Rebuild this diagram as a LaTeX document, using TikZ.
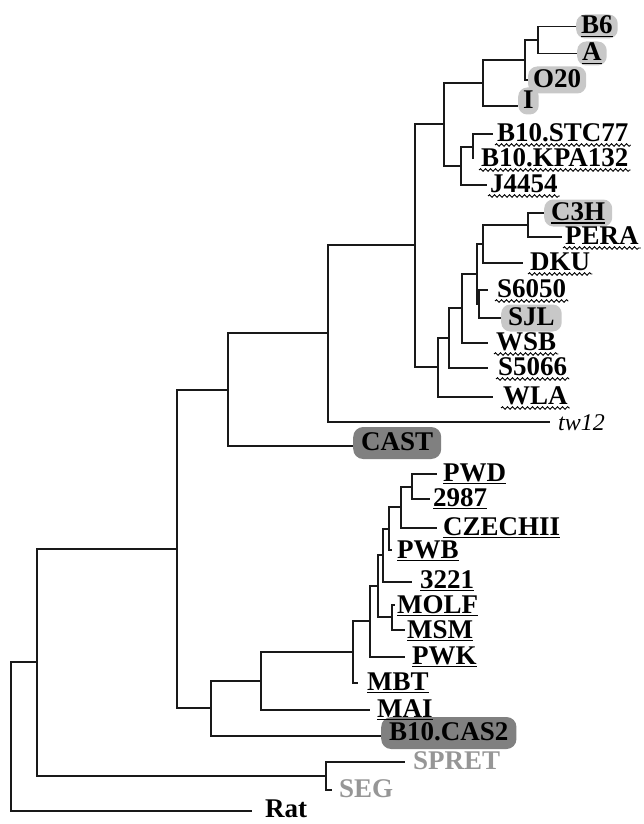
\documentclass[tikz,border=0pt]{standalone}
\usepackage{fontspec}
\setmainfont{Liberation Serif}
\usetikzlibrary{decorations.pathmorphing}
\definecolor{boxlight}{RGB}{200,200,200}
\definecolor{boxdark}{RGB}{128,128,128}
\definecolor{spretgray}{RGB}{150,150,150}
\definecolor{treeline}{RGB}{25,25,25}
\tikzset{
  br/.style={line width=1.8pt, draw=treeline},
  lab/.style={font=\bfseries\fontsize{27}{29}\selectfont, anchor=west, inner sep=0pt, text height=18pt, text depth=0pt},
  lbox/.style={lab, fill=boxlight, rounded corners=9pt, inner xsep=5pt, inner ysep=3pt, text depth=3pt},
  dbox/.style={lab, fill=boxdark, rounded corners=10pt, inner xsep=8pt, inner ysep=5.5pt, text depth=3pt},
  ital/.style={lab, font=\itshape\fontsize{24}{26}\selectfont},
  uline/.style={line width=1.6pt, draw=black},
  wavy/.style={line width=0.9pt, draw=black, decorate, decoration={snake, amplitude=1.3pt, segment length=5pt}},
}
\newcommand\myul[2][0pt]{\draw[uline,shorten <=#1,shorten >=#1] ([yshift=-2.5pt]#2.base west) -- ([yshift=-2.5pt]#2.base east);}
\newcommand\mywl[1]{\draw[wavy] ([yshift=-4pt,xshift=-2pt]#1.base west) -- ([yshift=-4pt,xshift=2pt]#1.base east);}
\begin{document}
\begin{tikzpicture}[x=1pt,y=-1pt]
\useasboundingbox (0,0) rectangle (643,824);
% internal nodes
\coordinate (n538) at (538,40);
\coordinate (n525) at (525,60);
\coordinate (n483a) at (483,83);
\coordinate (n473) at (473,147);
\coordinate (n461) at (461,166);
\coordinate (n444) at (444,124);
\coordinate (n528) at (528,225);
\coordinate (n483b) at (483,244);
\coordinate (n479) at (479,304);
\coordinate (n477) at (477,274);
\coordinate (n462) at (462,308);
\coordinate (n449) at (449,338);
\coordinate (n438) at (438,367);
\coordinate (n415) at (415,245);
\coordinate (n328) at (328,333);
\coordinate (n228) at (228,390);
\coordinate (n412) at (412,487);
\coordinate (n401) at (401,507);
\coordinate (n389) at (389,529);
\coordinate (n383) at (383,555);
\coordinate (n392) at (392,617);
\coordinate (n378) at (378,586);
\coordinate (n370) at (370,621);
\coordinate (n353) at (353,652);
\coordinate (n261) at (261,681);
\coordinate (n211) at (211,708);
\coordinate (n177) at (177,549);
\coordinate (n326) at (326,776);
\coordinate (n37) at (37,662);
\coordinate (n11) at (11,737);
% leaf ends
\coordinate (b6e) at (576,26.5);
\coordinate (ae) at (577,53.5);
\coordinate (o20e) at (528,80);
\coordinate (ie) at (518,106);
\coordinate (stce) at (493,134);
\coordinate (kpae) at (473,159);
\coordinate (je) at (487,185);
\coordinate (c3he) at (544,213);
\coordinate (perae) at (562,237);
\coordinate (dkue) at (523,263);
\coordinate (s6e) at (488,290);
\coordinate (sjle) at (501,318);
\coordinate (wsbe) at (488,343);
\coordinate (s5e) at (488,368);
\coordinate (wlae) at (493,397);
\coordinate (twe) at (550,422);
\coordinate (caste) at (353,446);
\coordinate (pwde) at (437,474);
\coordinate (n2987e) at (430,499);
\coordinate (cze) at (437,528);
\coordinate (pwbe) at (392,550);
\coordinate (n3221e) at (412,582);
\coordinate (molfe) at (395,605);
\coordinate (msme) at (405,630);
\coordinate (pwke) at (405,657);
\coordinate (mbte) at (358,683);
\coordinate (maie) at (370,710);
\coordinate (cas2e) at (381,736);
\coordinate (sprete) at (405,762);
\coordinate (sege) at (332,790);
\coordinate (rate) at (252,811);
% branches
\foreach \p/\c in {n538/b6e, n538/ae, n525/n538, n525/o20e, n483a/n525, n483a/ie,
  n444/n483a, n444/n461, n461/n473, n461/je, n473/stce, n473/kpae,
  n415/n444, n415/n438, n438/n449, n438/wlae, n449/n462, n449/s5e,
  n462/n477, n462/wsbe, n477/n483b, n477/n479, n483b/n528, n483b/dkue,
  n528/c3he, n528/perae, n479/s6e, n479/sjle,
  n328/n415, n328/twe, n228/n328, n228/caste, n177/n228, n177/n211,
  n211/n261, n211/cas2e, n261/n353, n261/maie, n353/n370, n353/mbte,
  n370/n378, n370/pwke, n378/n383, n378/n392, n383/n389, n383/n3221e,
  n389/n401, n389/pwbe, n401/n412, n401/cze, n412/pwde, n412/n2987e,
  n392/molfe, n392/msme, n37/n177, n37/n326, n326/sprete, n326/sege,
  n11/n37, n11/rate}
  \draw[br] (\p) |- (\c);
% labels
\node[lbox, inner ysep=1.5pt] (b6) at (b6e) {B6};
\node[lbox, inner ysep=1.5pt] (a) at (ae) {A};
\node[lbox] (o20) at (o20e) {O20};
\node[lbox] (i) at (518,101) {I};
\node[lab] (stc) at (497,132) {B10.STC77};
\node[lab] (kpa) at (481,157) {B10.KPA132};
\node[lab] (j) at (490,183) {J4454};
\node[lbox, inner xsep=7pt] (c3h) at (c3he) {C3H};
\node[lab] (pera) at (565,235) {PERA};
\node[lab] (dku) at (530,261) {DKU};
\node[lab] (s6) at (497,288) {S6050};
\node[lbox, inner xsep=7pt] (sjl) at (sjle) {SJL};
\node[lab] (wsb) at (496,341) {WSB};
\node[lab] (s5) at (498,366) {S5066};
\node[lab] (wla) at (503,395) {WLA};
\node[ital] (tw) at (558,421) {tw12};
\node[dbox] (cast) at (353,443) {CAST};
\node[lab] (pwd) at (443,472) {PWD};
\node[lab] (n2987) at (433,497) {2987};
\node[lab] (cz) at (443,526) {CZECHII};
\node[lab] (pwb) at (397,549) {PWB};
\node[lab] (n3221) at (420,579) {3221};
\node[lab] (molf) at (397,604) {MOLF};
\node[lab] (msm) at (407,629) {MSM};
\node[lab] (pwk) at (412,655) {PWK};
\node[lab] (mbt) at (367,681) {MBT};
\node[lab] (mai) at (377,708) {MAI};
\node[dbox] (cas2) at (381,733) {B10.CAS2};
\node[lab, text=spretgray] (spret) at (413,760) {SPRET};
\node[lab, text=spretgray] (seg) at (339,788) {SEG};
\node[lab] (rat) at (265,808) {Rat};
% underlines
\myul[5pt]{b6}
\myul[5pt]{a}
\myul[7pt]{c3h}
\myul{pwd}
\myul{n2987}
\myul{cz}
\myul{pwb}
\myul{n3221}
\myul{molf}
\myul{msm}
\myul{pwk}
\myul{mbt}
\myul{mai}
% wavy underlines
\mywl{stc}
\mywl{kpa}
\mywl{j}
\mywl{pera}
\mywl{dku}
\mywl{s6}
\mywl{wsb}
\mywl{s5}
\mywl{wla}
\end{tikzpicture}
\end{document}
